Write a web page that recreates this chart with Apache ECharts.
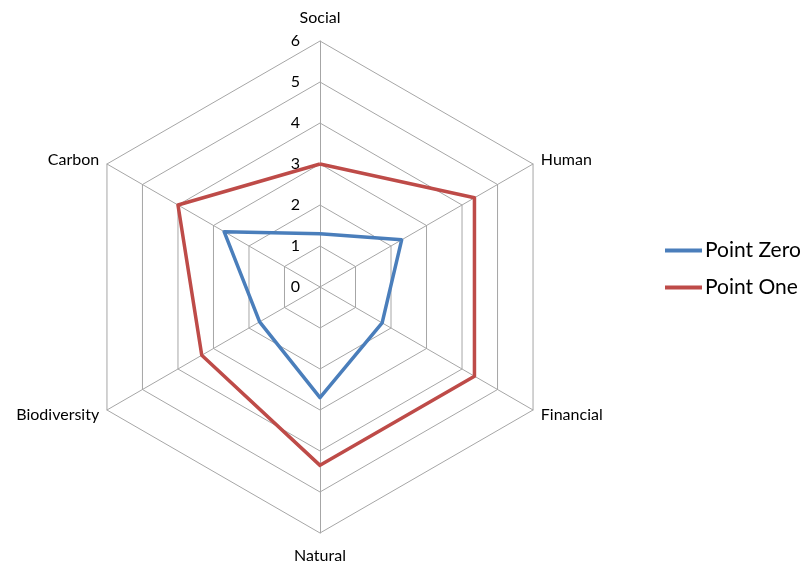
<!DOCTYPE html>
<html>
<head>
<meta charset="utf-8">
<script src="https://cdn.jsdelivr.net/npm/echarts@6/dist/echarts.min.js"></script>
<style>
  html, body { margin: 0; padding: 0; background: #fff; }
  #chart { width: 806px; height: 567px; }
</style>
</head>
<body>
<div id="chart"></div>
<script>
    // radar runs counter-clockwise, so list axes in that order starting from top
    const categories = ['Social', 'Carbon', 'Biodiversity', 'Natural', 'Financial', 'Human']
    const pointZero = [1.3, 2.7, 1.7, 2.7, 1.75, 2.3]
    const pointOne = [3, 4, 3.33, 4.35, 4.35, 4.35]
    const seriesNames = ['Point Zero', 'Point One']
    const maxValue = 6

    let chart = echarts.init(document.getElementById('chart'))

    const option = {
        animation: false,
        color: ['#4a7ebb', '#be4b48'],
        textStyle: {
            fontFamily: 'Lato'
        },
        legend: {
            data: seriesNames,
            orient: 'vertical',
            left: 660,
            top: 235,
            icon: 'rect',
            itemWidth: 37,
            itemHeight: 4,
            itemGap: 16,
            textStyle: {
                fontSize: 21,
                color: '#000',
                padding: [0, 0, 0, -2]
            }
        },
        radar: {
            center: [320, 287],
            radius: 246,
            startAngle: 90,
            splitNumber: 6,
            shape: 'polygon',
            nameGap: 9,
            axisName: {
                color: '#000',
                fontSize: 16
            },
            axisLine: {
                lineStyle: { color: '#a6a6a6', width: 1 }
            },
            splitLine: {
                lineStyle: { color: '#a6a6a6', width: 1 }
            },
            splitArea: { show: false },
            axisLabel: {
                show: true,
                color: '#000',
                fontSize: 16,
                margin: 20
            },
            indicator: categories.map((name, i) => ({
                name: name,
                min: 0,
                max: maxValue,
                nameGap: (i === 0 || i === 3) ? 15 : 9,
                axisLabel: i === 0 ? {} : { show: false }
            }))
        },
        series: [
            {
                type: 'radar',
                symbol: 'none',
                lineStyle: { width: 3.5 },
                data: [
                    { name: seriesNames[0], value: pointZero, lineStyle: { color: '#4a7ebb' } },
                    { name: seriesNames[1], value: pointOne, lineStyle: { color: '#be4b48' } }
                ]
            }
        ]
    }

    chart.setOption(option)
</script>
</body>
</html>
